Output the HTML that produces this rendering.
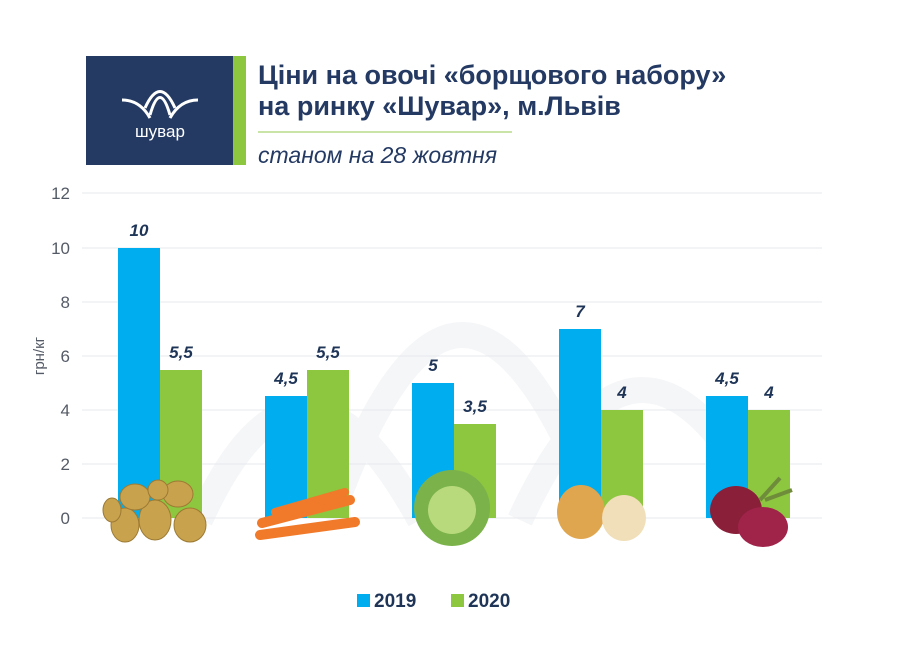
<!DOCTYPE html>
<html><head><meta charset="utf-8"><style>
body{margin:0;background:#fff;}
svg text{font-family:"Liberation Sans",sans-serif;}
</style></head><body>
<svg width="900" height="650" viewBox="0 0 900 650" xmlns="http://www.w3.org/2000/svg">
<rect width="900" height="650" fill="#fff"/>
<g fill="none" stroke="#f5f6f8" stroke-width="26">
<path d="M200 520 Q300 300 420 520"/>
<path d="M330 520 Q460 150 600 520"/>
<path d="M520 520 Q640 260 770 520"/>
</g>
<rect x="86" y="56" width="147" height="109" fill="#243a63"/>
<rect x="233" y="56" width="13" height="109" fill="#8dc63f"/>
<g fill="none" stroke="#fff" stroke-width="3">
<path d="M122 100 Q140 100 150 118"/>
<path d="M145 108 Q160 75 175 108"/>
<path d="M150 115 Q160 80 170 115"/>
<path d="M198 100 Q180 100 170 118"/>
</g>
<text x="160" y="137" fill="#fff" font-size="17" text-anchor="middle">шувар</text>
<text x="258" y="84" fill="#243a63" font-size="27" font-weight="bold">Ціни на овочі «борщового набору»</text>
<text x="258" y="115" fill="#243a63" font-size="27" font-weight="bold">на ринку «Шувар», м.Львів</text>
<line x1="258" y1="132" x2="512" y2="132" stroke="#b9dc8c" stroke-width="1.5"/>
<text x="258" y="163" fill="#243a63" font-size="23" font-style="italic">станом на 28 жовтня</text>
<g stroke="#e6e8ec" stroke-width="1">
<line x1="82" y1="193" x2="822" y2="193"/><line x1="82" y1="248" x2="822" y2="248"/>
<line x1="82" y1="302" x2="822" y2="302"/><line x1="82" y1="356" x2="822" y2="356"/>
<line x1="82" y1="410" x2="822" y2="410"/><line x1="82" y1="464" x2="822" y2="464"/>
<line x1="82" y1="518" x2="822" y2="518"/>
</g>
<g fill="#555b66" font-size="17" text-anchor="end">
<text x="70" y="199">12</text><text x="70" y="254">10</text><text x="70" y="308">8</text>
<text x="70" y="362">6</text><text x="70" y="416">4</text><text x="70" y="470">2</text><text x="70" y="524">0</text>
</g>
<text transform="translate(44,356) rotate(-90)" fill="#555b66" font-size="15" text-anchor="middle">грн/кг</text>
<g fill="#00aeef">
<rect x="118" y="248" width="42" height="270"/><rect x="265" y="396" width="42" height="122"/>
<rect x="412" y="383" width="42" height="135"/><rect x="559" y="329" width="42" height="189"/>
<rect x="706" y="396" width="42" height="122"/>
</g>
<g fill="#8dc63f">
<rect x="160" y="370" width="42" height="148"/><rect x="307" y="370" width="42" height="148"/>
<rect x="454" y="424" width="42" height="94"/><rect x="601" y="410" width="42" height="108"/>
<rect x="748" y="410" width="42" height="108"/>
</g>
<g fill="#1f3557" font-size="17" font-weight="bold" font-style="italic" text-anchor="middle">
<text x="139" y="236">10</text><text x="181" y="358">5,5</text>
<text x="286" y="384">4,5</text><text x="328" y="358">5,5</text>
<text x="433" y="371">5</text><text x="475" y="412">3,5</text>
<text x="580" y="317">7</text><text x="622" y="398">4</text>
<text x="727" y="384">4,5</text><text x="769" y="398">4</text>
</g>
<g fill="#c9a24e" stroke="#9c7a33" stroke-width="1">
<ellipse cx="125" cy="525" rx="14" ry="17"/><ellipse cx="155" cy="520" rx="16" ry="20"/>
<ellipse cx="190" cy="525" rx="16" ry="17"/><ellipse cx="135" cy="497" rx="15" ry="13"/>
<ellipse cx="178" cy="494" rx="15" ry="13"/><ellipse cx="158" cy="490" rx="10" ry="10"/>
<ellipse cx="112" cy="510" rx="9" ry="12"/>
</g>
<g stroke="#f07a2a" stroke-linecap="round">
<line x1="262" y1="523" x2="350" y2="500" stroke-width="10"/>
<line x1="260" y1="535" x2="355" y2="522" stroke-width="10"/>
<line x1="275" y1="512" x2="345" y2="492" stroke-width="8"/>
</g>
<circle cx="452" cy="508" r="38" fill="#7bb24a"/>
<circle cx="452" cy="510" r="24" fill="#b8da7c"/>
<ellipse cx="581" cy="512" rx="24" ry="27" fill="#e0a64f"/>
<ellipse cx="624" cy="518" rx="22" ry="23" fill="#f0dfb8"/>
<ellipse cx="736" cy="510" rx="26" ry="24" fill="#8a1f3a"/>
<ellipse cx="763" cy="527" rx="25" ry="20" fill="#a0234a"/>
<path d="M760 500 L780 478 M765 500 L792 490" stroke="#6e8c3a" stroke-width="4"/>
<rect x="357" y="594" width="13" height="13" fill="#00aeef"/>
<text x="374" y="607" fill="#1f3557" font-size="19" font-weight="bold">2019</text>
<rect x="451" y="594" width="13" height="13" fill="#8dc63f"/>
<text x="468" y="607" fill="#1f3557" font-size="19" font-weight="bold">2020</text>
</svg>
</body></html>
